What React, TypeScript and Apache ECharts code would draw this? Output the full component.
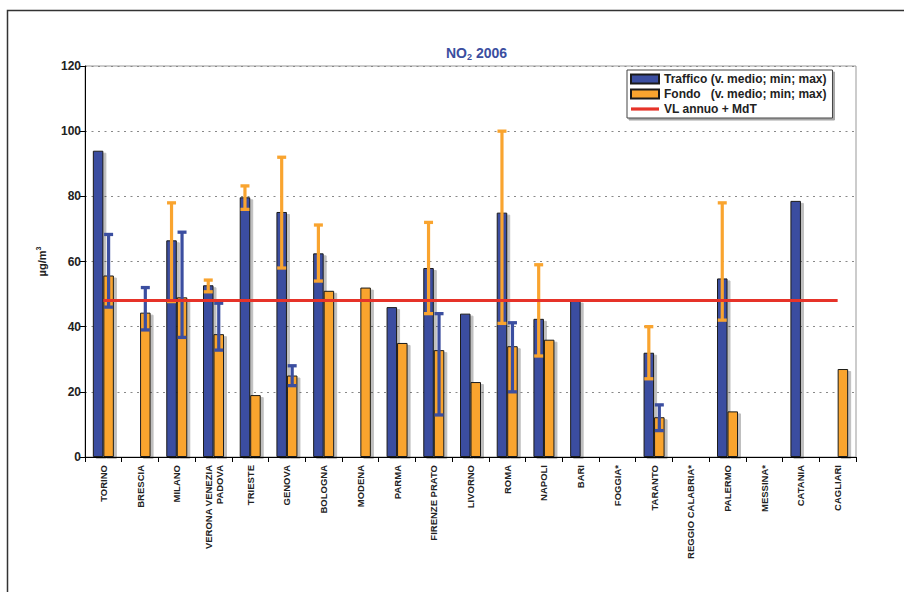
import React, { useEffect, useRef } from "react";
import * as echarts from "echarts";

const categories = [
  "TORINO", "BRESCIA", "MILANO", "VERONA VENEZIA\nPADOVA", "TRIESTE", "GENOVA", "BOLOGNA",
  "MODENA", "PARMA", "FIRENZE PRATO", "LIVORNO", "ROMA", "NAPOLI", "BARI", "FOGGIA*",
  "TARANTO", "REGGIO CALABRIA*", "PALERMO", "MESSINA*", "CATANIA", "CAGLIARI",
];
const traffico = [94, null, 66.5, 52.7, 79.7, 75.2, 62.5, null, 46, 58, 44, 75, 42.4, 48, null, 32, null, 54.8, null, 78.6, null];
const fondo = [55.7, 44.3, 49, 37.7, 19, 25, 51, 52, 35, 32.8, 23, 34, 36, null, null, 12.2, null, 14, null, null, 27];
const trafficoMin = [null, null, 47.7, 50.7, 76, 58, 54, null, null, 44, null, 41, 31, null, null, 24, null, 42, null, null, null];
const trafficoMax = [null, null, 78, 54.3, 83.2, 92, 71.2, null, null, 72, null, 100, 59, null, null, 40, null, 78, null, null, null];
const fondoMin = [46, 39, 36.7, 32.8, null, 21.9, null, null, null, 12.9, null, 20, null, null, null, 8.1, null, null, null, null, null];
const fondoMax = [68.3, 52, 69, 47.2, null, 28, null, null, null, 44, null, 41.2, null, null, null, 16, null, null, null, null, null];
const limite = categories.map(() => 48);
const yTicks = [0, 20, 40, 60, 80, 100, 120];

const BLUE = "#3B4EA0";
const ORANGE = "#F9A42F";
const RED = "#E63329";
const FONT = "'Liberation Sans', Arial, sans-serif";
const BAR_W = 10.5;

function errData(mins: (number | null)[], maxs: (number | null)[]) {
  const out: number[][] = [];
  mins.forEach((m, i) => {
    const M = maxs[i];
    if (m != null && M != null) out.push([i, m, M]);
  });
  return out;
}

function makeErrRender(offset: number, color: string) {
  return (params: any, api: any) => {
    const idx = api.value(0);
    const lo = api.coord([idx, api.value(1)]);
    const hi = api.coord([idx, api.value(2)]);
    const x = lo[0] + offset;
    const capW = 9;
    const capH = 3.3;
    return {
      type: "group",
      children: [
        {
          type: "rect",
          shape: { x: x - 1.6, y: hi[1], width: 3.2, height: lo[1] - hi[1] },
          style: { fill: color },
        },
        {
          type: "rect",
          shape: { x: x - capW / 2, y: hi[1] - capH / 2, width: capW, height: capH },
          style: { fill: color },
        },
        {
          type: "rect",
          shape: { x: x - capW / 2, y: lo[1] - capH / 2, width: capW, height: capH },
          style: { fill: color },
        },
      ],
    };
  };
}

export default function App() {
  const ref = useRef<HTMLDivElement>(null);
  useEffect(() => {
    if (!ref.current) return;
    const chart = echarts.init(ref.current, undefined, { renderer: "svg" });
    const barStyle = (c: string) => ({
      color: c,
      borderColor: "#1a1a1a",
      borderWidth: 1,
      shadowColor: "rgba(0,0,0,0.25)",
      shadowBlur: 0,
      shadowOffsetX: 3,
      shadowOffsetY: 2,
    });
    chart.setOption({
      animation: false,
      backgroundColor: "#ffffff",
      textStyle: { fontFamily: FONT },
      title: {
        text: "{a|NO}{b|2}{a| 2006}",
        left: 446,
        top: 44,
        padding: 0,
        textStyle: {
          rich: {
            a: { fontFamily: FONT, fontSize: 14, fontWeight: "bold", color: BLUE },
            b: { fontFamily: FONT, fontSize: 9, fontWeight: "bold", color: BLUE, padding: [8, 0, 0, 0] },
          },
        },
      },
      legend: {
        left: 627,
        top: 70,
        orient: "vertical",
        padding: [3, 6, 3, 3],
        itemGap: 3,
        itemWidth: 28,
        itemHeight: 9,
        backgroundColor: "#ffffff",
        borderColor: "#444",
        borderWidth: 1,
        shadowColor: "rgba(0,0,0,0.35)",
        shadowBlur: 0,
        shadowOffsetX: 2,
        shadowOffsetY: 2,
        textStyle: { fontFamily: FONT, fontSize: 12, fontWeight: "bold", color: "#222" },
        data: [
          { name: "Traffico (v. medio; min; max)", icon: "rect" },
          { name: "Fondo   (v. medio; min; max)", icon: "rect" },
          {
            name: "VL annuo + MdT",
            icon: "path://M0,0 L28,0 L28,3.2 L0,3.2 Z",
            itemStyle: { color: RED, borderWidth: 0 },
          },
        ],
      },
      graphic: [
        {
          type: "rect",
          shape: { x: 7.5, y: 10.5, width: 2000, height: 2000 },
          style: { fill: "none", stroke: "#333", lineWidth: 1.5 },
          silent: true,
          z: -10,
        },
      ],
      grid: {
        left: 85,
        right: 48,
        top: 66,
        bottom: 135,
        show: true,
        borderColor: "#999",
        borderWidth: 1,
        backgroundColor: "transparent",
      },
      xAxis: {
        type: "category",
        data: categories,
        axisLine: { lineStyle: { color: "#000", width: 1 } },
        axisTick: { show: true, length: 5, lineStyle: { color: "#000" } },
        axisLabel: {
          rotate: 90,
          interval: 0,
          margin: 8,
          fontFamily: FONT,
          fontSize: 9.5,
          fontWeight: "bold",
          color: "#222",
          lineHeight: 11,
        },
      },
      yAxis: {
        type: "value",
        min: 0,
        max: 120,
        interval: 20,
        name: "{a|µg/m}{b|3}",
        nameLocation: "middle",
        nameGap: 36,
        nameRotate: 90,
        nameTextStyle: {
          rich: {
            a: { fontFamily: FONT, fontSize: 11, fontWeight: "bold", color: "#222" },
            b: { fontFamily: FONT, fontSize: 7, fontWeight: "bold", color: "#222", padding: [0, 0, 7, 0] },
          },
        },
        axisLine: { show: true, lineStyle: { color: "#000", width: 1 } },
        axisTick: { show: true, length: 5, lineStyle: { color: "#000" } },
        axisLabel: {
          margin: 4,
          fontFamily: FONT,
          fontSize: 12,
          fontWeight: "bold",
          color: "#222",
          formatter: (v: number) => (yTicks.includes(v) ? String(v) : ""),
        },
        splitLine: { show: true, lineStyle: { color: "#888", type: [2, 4.5], width: 1 } },
      },
      series: [
        {
          name: "Traffico (v. medio; min; max)",
          type: "bar",
          data: traffico,
          barWidth: BAR_W,
          barGap: "0%",
          itemStyle: barStyle(BLUE),
          z: 2,
        },
        {
          name: "Fondo   (v. medio; min; max)",
          type: "bar",
          data: fondo,
          barWidth: BAR_W,
          barGap: "0%",
          itemStyle: barStyle(ORANGE),
          z: 2,
        },
        {
          name: "err-traffico",
          type: "custom",
          data: errData(trafficoMin, trafficoMax),
          encode: { x: 0, y: [1, 2] },
          renderItem: makeErrRender(-BAR_W / 2, ORANGE),
          z: 3,
          silent: true,
        },
        {
          name: "err-fondo",
          type: "custom",
          data: errData(fondoMin, fondoMax),
          encode: { x: 0, y: [1, 2] },
          renderItem: makeErrRender(BAR_W / 2, BLUE),
          z: 3,
          silent: true,
        },
        {
          name: "VL annuo + MdT",
          type: "line",
          data: limite,
          symbol: "none",
          lineStyle: { color: RED, width: 3 },
          itemStyle: { color: RED },
          z: 4,
        },
      ],
    });
    return () => chart.dispose();
  }, []);
  return <div ref={ref} style={{ position: "absolute", left: 0, top: 0, width: 904, height: 592 }} />;
}
